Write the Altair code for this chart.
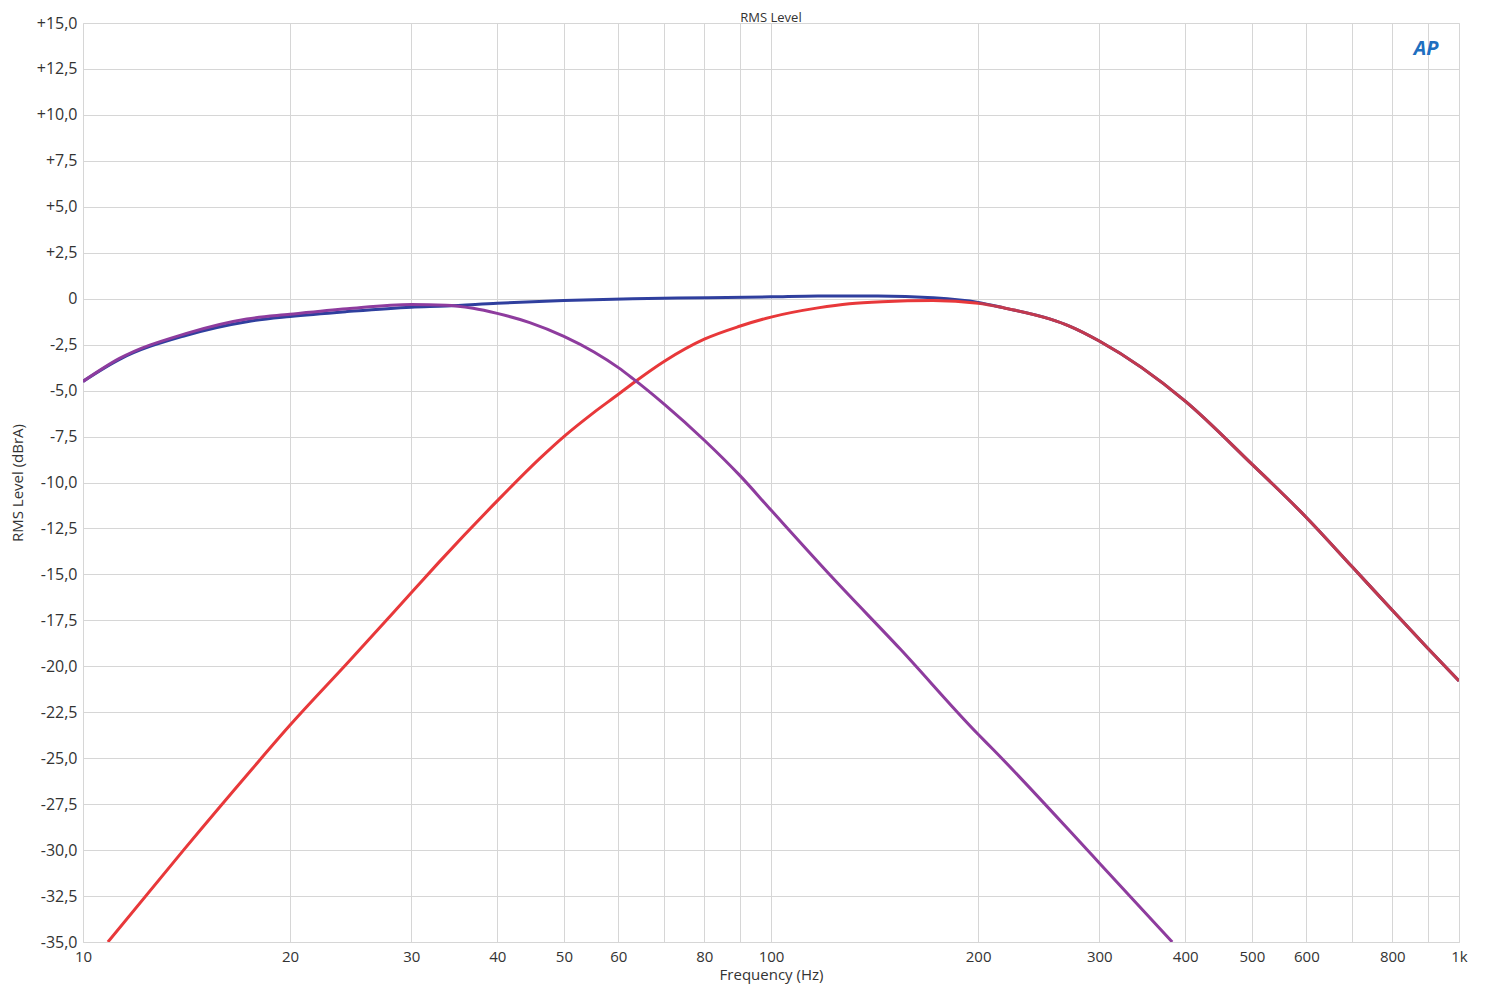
import altair as alt
import pandas as pd

# --- data (frequency in Hz, level in dBrA) ---
blue_freq = [10, 11.3, 14.1, 17.3, 20, 24.2, 30, 33.7, 40, 50, 63, 81, 100, 117, 143, 172,
             200, 218, 254, 272, 300, 400, 500, 600, 700, 800, 900, 1000]
blue_level = [-4.5, -3.3, -2.0, -1.25, -0.97, -0.7, -0.46, -0.4, -0.25, -0.1, 0.0, 0.05, 0.1,
              0.15, 0.15, 0.05, -0.2, -0.5, -1.1, -1.5, -2.3, -5.57, -9.0, -11.9, -14.6, -16.95,
              -19.0, -20.8]

red_freq = [10.87, 14.0, 17.6, 20, 24.4, 30, 32.8, 40, 46.1, 50, 55, 60, 63, 70, 80, 90, 100,
            117, 130, 145, 172, 200, 218, 254, 272, 300, 400, 500, 600, 700, 800, 900, 1000]
red_level = [-35, -30, -25.6, -23.2, -19.7, -16.0, -14.4, -11.0, -8.7, -7.5, -6.25, -5.2, -4.6,
             -3.4, -2.2, -1.5, -1.0, -0.5, -0.27, -0.16, -0.1, -0.25, -0.5, -1.1, -1.5, -2.3,
             -5.57, -9.0, -11.9, -14.6, -16.95, -19.0, -20.8]

purple_freq = [10, 11.3, 14.1, 17.3, 20, 24.2, 30, 33.7, 36.9, 40, 44.6, 50, 55.3, 60, 63, 70,
               80, 90, 100, 123, 154, 200, 210, 300, 383]
purple_level = [-4.5, -3.25, -1.9, -1.1, -0.85, -0.55, -0.32, -0.35, -0.52, -0.8, -1.3, -2.05,
                -2.9, -3.75, -4.35, -5.75, -7.7, -9.6, -11.5, -15.2, -19.05, -23.7, -24.5,
                -30.7, -35]

x_ticks = [10, 20, 30, 40, 50, 60, 70, 80, 90, 100, 200, 300, 400, 500, 600, 700, 800, 900, 1000]
y_ticks = [15, 12.5, 10, 7.5, 5, 2.5, 0, -2.5, -5, -7.5, -10, -12.5, -15, -17.5, -20, -22.5,
           -25, -27.5, -30, -32.5, -35]

FONT = "Open Sans"

def frame(freq, level, name):
    return pd.DataFrame({"freq": freq, "level": level, "series": name})

blue = frame(blue_freq, blue_level, "blue")
red = frame(red_freq, red_level, "red")
purple = frame(purple_freq, purple_level, "purple")
blue_hf = blue[blue["freq"] >= 200]

x_enc = alt.X(
    "freq:Q",
    scale=alt.Scale(type="log", domain=[10, 1000], nice=False),
    axis=alt.Axis(
        values=x_ticks,
        labelExpr="indexof([70, 90, 700, 900], datum.value) >= 0 ? '' : (datum.value == 1000 ? '1k' : '' + datum.value)",
        title="Frequency (Hz)",
        labelFlush=False,
        labelOverlap=False,
        ticks=False,
        domain=False,
        grid=True,
        gridColor="#d6d6d6",
        gridWidth=1,
        labelFont=FONT,
        labelFontSize=15,
        labelColor="#333333",
        labelPadding=7,
        titleFont=FONT,
        titleFontSize=15,
        titleFontWeight="normal",
        titleColor="#333333",
        titlePadding=3,
    ),
)
y_enc = alt.Y(
    "level:Q",
    scale=alt.Scale(domain=[-35, 15], nice=False, zero=False),
    axis=alt.Axis(
        values=y_ticks,
        labelExpr="datum.value == 0 ? '0' : (datum.value > 0 ? '+' : '') + replace(replace(format(datum.value, '.1f'), '.', ','), '\u2212', '-')",
        title="RMS Level (dBrA)",
        ticks=False,
        domain=False,
        grid=True,
        gridColor="#d6d6d6",
        gridWidth=1,
        labelFont=FONT,
        labelFontSize=16,
        labelColor="#333333",
        labelPadding=6,
        titleFont=FONT,
        titleFontSize=15,
        titleFontWeight="normal",
        titleColor="#333333",
        titlePadding=11,
    ),
)

def line(df, color, opacity=1.0):
    return alt.Chart(df).mark_line(
        color=color, strokeWidth=3, clip=True, interpolate="monotone", opacity=opacity
    ).encode(x=x_enc, y=y_enc, order="freq:Q")

logo = alt.Chart(pd.DataFrame({"t": ["AP"]})).mark_text(
    font=FONT, fontSize=20, fontStyle="italic", fontWeight="bold", color="#1f6fc0"
).encode(x=alt.value(1343), y=alt.value(26), text="t:N")

chart = alt.layer(
    line(blue, "#2f3f9e"),
    line(red, "#e8383a"),
    line(purple, "#8e3c9e"),
    line(blue_hf, "#2f3f9e", opacity=0.2),
    logo,
).properties(
    width=1376,
    height=919,
    title=alt.TitleParams(
        "RMS Level", font=FONT, fontSize=13, fontWeight="normal", color="#333333",
        anchor="middle", offset=-10
    ),
    autosize=alt.AutoSizeParams(type="none"),
    padding={"left": 75, "top": 15, "right": 25, "bottom": 42},
).configure_view(
    stroke="#8a8a8a", strokeWidth=1.5
).configure(background="white")

chart.save("out.html", embed_options={"renderer": "svg", "actions": False})
